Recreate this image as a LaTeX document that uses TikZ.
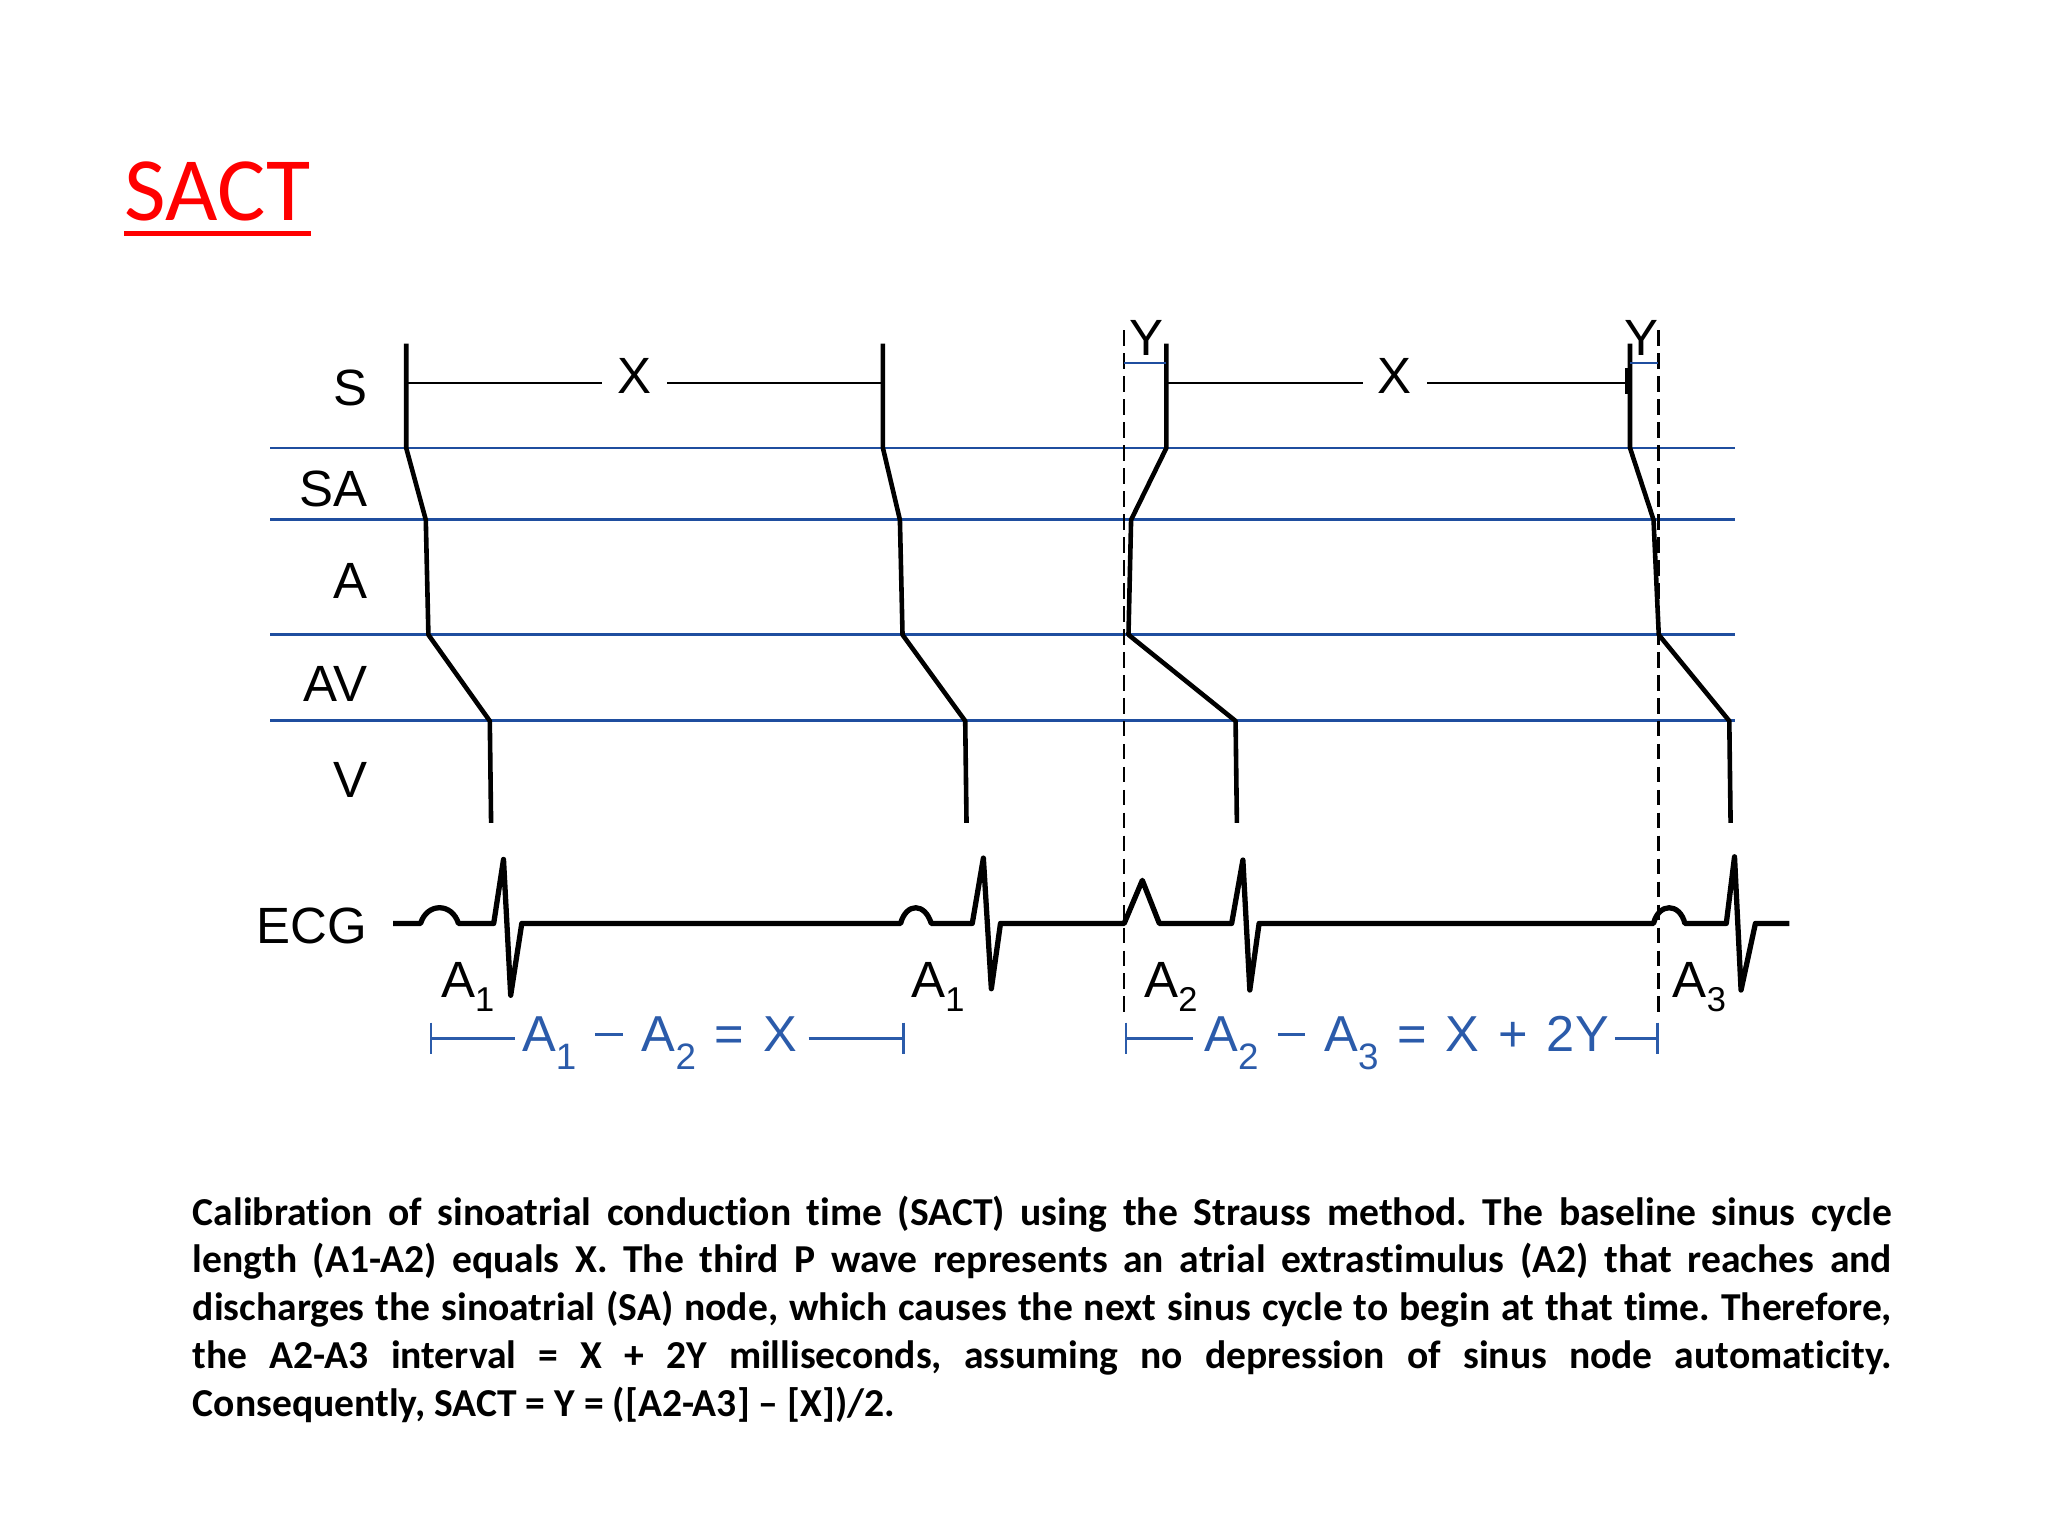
\documentclass[tikz,border=0pt]{standalone}
\usepackage{fontspec}
\setmainfont{Liberation Sans}
\newfontfamily\calfont[Ligatures=NoCommon]{Carlito}
\definecolor{ladderblue}{HTML}{1F4E9F}
\definecolor{formblue}{HTML}{2B5BAA}
\newcommand{\lsub}[1]{\raisebox{-3pt}{\fontsize{7.5pt}{8pt}\selectfont #1}}
\newcommand{\bsub}[1]{\raisebox{-4pt}{\fontsize{8pt}{9pt}\selectfont #1}}
\newcommand{\fgap}{\hspace{0.145cm}}
\newcommand{\fminus}{\raisebox{0.3em}{\rule{0.55em}{0.06em}}}
\frenchspacing
\begin{document}
\begin{tikzpicture}[x=0.01cm,y=-0.01cm,
  lbl/.style={font=\fontsize{11.1pt}{13pt}\selectfont, inner sep=0pt},
  rowlbl/.style={lbl, anchor=east},
  ladder/.style={line width=1pt, line join=round},
  sbar/.style={line width=0.45pt},
  gridline/.style={ladderblue, line width=0.65pt},
  ybar/.style={ladderblue, line width=0.5pt},
  dashline/.style={line width=0.6pt, dash pattern=on 3.4pt off 1.6pt},
  ecg/.style={line width=1.15pt, line join=round},
  form/.style={formblue, font=\fontsize{11pt}{13pt}\selectfont, inner sep=0pt, anchor=base west},
  bracket/.style={formblue, line width=0.6pt},
  caption/.style={font=\calfont\bfseries\fontsize{8.62pt}{10.4pt}\selectfont, inner sep=0pt, anchor=base west}]
\useasboundingbox (0,0) rectangle (1568,1176);
\fill[white] (0,0) rectangle (1568,1176);

% title
\node[font=\calfont\fontsize{19.7pt}{22pt}\selectfont, text=red, inner sep=0pt, anchor=base west] (title) at (95,168.5) {SACT};
\draw[red, line width=1.15pt] ([yshift=-0.1cm]title.base west) -- ([yshift=-0.1cm]title.base east);

% row labels
\node[rowlbl] (lS) at (282,297) {S};
\node[rowlbl] (lSA) at (282,374) {SA};
\node[rowlbl] (lA) at (282,445) {A};
\node[rowlbl] (lAV) at (282,524) {AV};
\node[rowlbl] (lV) at (282,597) {V};
\node[rowlbl] (lECG) at (282,709) {ECG};

% blue grid lines
\foreach \yy in {343,398,486,552} {\draw[gridline] (207,\yy) -- (1328,\yy);}

% dashed lines
\draw[dashline] (860.6,253) -- (860.6,776);
\draw[dashline] (1269.6,253) -- (1269.6,776);

% ladder lines
\draw[ladder] (311,263) -- (311,343) -- (326,398) -- (328,486) -- (375,552) -- (376,630);
\draw[ladder] (676,263) -- (676,343) -- (689,398) -- (691,486) -- (739,552) -- (740,630);
\draw[ladder] (893,263) -- (893,343) -- (866,398) -- (864,486) -- (946,552) -- (947,630);
\draw[ladder] (1248,263) -- (1248,343) -- (1266,398) -- (1270,486) -- (1324,552) -- (1325,630);

% S bars with X
\coordinate (s1) at (311,293);
\coordinate (s2) at (676,293);
\coordinate (s3) at (893,293);
\coordinate (s4) at (1248,293);
\node[lbl, inner xsep=0.11cm] (x1) at (486,288) {X};
\node[lbl, inner xsep=0.11cm] (x2) at (1068,288) {X};
\draw[sbar] (s1) -- (s1 -| x1.west);
\draw[sbar] (x1.east |- s1) -- (s2);
\draw[sbar] (s3) -- (s3 -| x2.west);
\draw[sbar] (x2.east |- s3) -- (s4);
\draw[line width=1.4pt] (1246.5,282) -- (1246.5,302);

% Y markers
\node[lbl] (y1) at (878,258.5) {Y};
\node[lbl] (y2) at (1256.5,258.5) {Y};
\draw[ybar] (860.6,278) -- (893,278);
\draw[ybar] (1248,278) -- (1269.6,278);

% ECG trace
\draw[ecg] (301,707) -- (322,707) .. controls (327,691) and (346,691) .. (351,707)
  -- (378,707) -- (385.5,658) -- (391,762) -- (399.5,707)
  -- (689.5,707) .. controls (694,691) and (708,691) .. (713,707)
  -- (744.4,707) -- (752.9,657) -- (759,757) -- (766,707)
  -- (860.7,707) -- (874.6,674) -- (887.6,707)
  -- (943,707) -- (951.6,658.5) -- (956.9,758) -- (964,707)
  -- (1266,707) .. controls (1270,691) and (1286,691) .. (1290,707)
  -- (1321.7,707) -- (1328,656) -- (1333,758) -- (1344,707) -- (1370,707);

% A labels
\node[lbl, anchor=base west] (a1) at (337,764) {A\lsub{1}};
\node[lbl, anchor=base west] (a1b) at (697,764) {A\lsub{1}};
\node[lbl, anchor=base west] (a2) at (875.5,764) {A\lsub{2}};
\node[lbl, anchor=base west] (a3) at (1280,764) {A\lsub{3}};

% blue formulas and brackets
\node[form] (f1) at (399,805) {A\bsub{1}\fgap\fminus\fgap A\bsub{2}\fgap=\fgap X};
\node[form] (f2) at (921.5,805) {A\bsub{2}\fgap\fminus\fgap A\bsub{3}\fgap=\fgap X\fgap+\fgap 2Y};
\coordinate (b1l) at (330,795);
\coordinate (b1r) at (691.5,795);
\coordinate (b2l) at (862,795);
\coordinate (b2r) at (1269,795);
\coordinate (f1w) at ([xshift=-0.05cm]f1.west);
\coordinate (f1e) at ([xshift=0.08cm]f1.east);
\coordinate (f2w) at ([xshift=-0.08cm]f2.west);
\coordinate (f2e) at ([xshift=0.04cm]f2.east);
\draw[bracket] (b1l) -- (f1w |- b1l);
\draw[bracket] (f1e |- b1l) -- (b1r);
\draw[bracket] (b2l) -- (f2w |- b2l);
\draw[bracket] (f2e |- b2l) -- (b2r);
\foreach \c in {b1l,b1r,b2l,b2r} {\draw[bracket] ([yshift=0.12cm]\c) -- ([yshift=-0.12cm]\c);}

% caption
\node[caption] (c1) at (147,938) {\makebox[13cm][s]{Calibration of sinoatrial conduction time (SACT) using the Strauss method. The baseline sinus cycle}};
\node[caption] (c2) at (147,974.6) {\makebox[13cm][s]{length (A1-A2) equals X. The third P wave represents an atrial extrastimulus (A2) that reaches and}};
\node[caption] (c3) at (147,1011.2) {\makebox[13cm][s]{discharges the sinoatrial (SA) node, which causes the next sinus cycle to begin at that time. Therefore,}};
\node[caption] (c4) at (147,1047.8) {\makebox[13cm][s]{the A2-A3 interval = X + 2Y milliseconds, assuming no depression of sinus node automaticity.}};
\node[caption] (c5) at (147,1084.4) {Consequently, SACT = Y = ([A2-A3] – [X])/2.};
\end{tikzpicture}
\end{document}
